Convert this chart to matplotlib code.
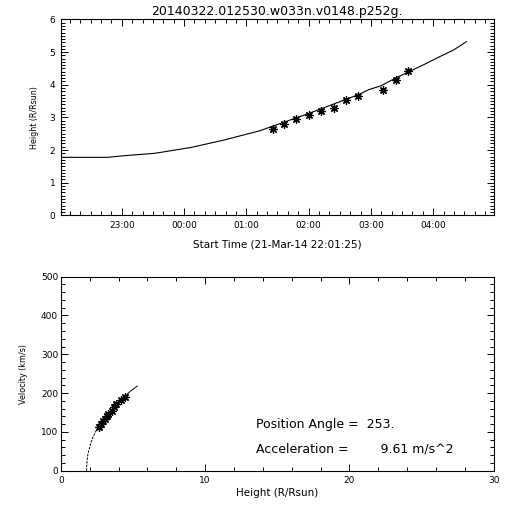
"""
Height-time and velocity-height plot for one CME track.
"""

import matplotlib
matplotlib.use('Agg')
import matplotlib.pyplot as plt
from matplotlib.ticker import MultipleLocator, FuncFormatter

TITLE = '20140322.012530.w033n.v0148.p252g.'
START_LABEL = 'Start Time (21-Mar-14 22:01:25)'
T_START = '22:01:25'
T_END = '04:58:10'

# measured heights (R/Rsun)
obs_times = ['01:25:30', '01:36:00', '01:48:00', '02:00:00', '02:12:00', '02:24:00',
             '02:36:00', '02:48:00', '03:12:00', '03:24:00', '03:36:00']
obs_heights = [2.64, 2.79, 2.95, 3.08, 3.20, 3.29, 3.54, 3.66, 3.85, 4.15, 4.42]
obs_velocities = [112, 120, 127, 134, 140, 147, 155, 163, 172, 182, 189]

# fitted height-time curve
fit_times = ['22:01:25', '22:46:00', '23:02:00', '23:32:00', '00:07:00', '00:39:00',
             '01:13:00', '02:01:00', '02:49:00', '02:58:00', '03:10:00', '03:24:00',
             '03:50:00', '04:05:00', '04:20:00', '04:32:00']
fit_heights = [1.775, 1.775, 1.825, 1.90, 2.08, 2.31, 2.59, 3.13, 3.71, 3.85, 3.97,
               4.21, 4.60, 4.84, 5.07, 5.32]

# velocity-height curve
vfit_dash_h = [1.78, 1.79, 1.81, 1.85, 1.92, 2.01, 2.12, 2.24, 2.36, 2.47]
vfit_dash_v = [0, 12, 24, 38, 50, 62, 76, 88, 97, 105]
vfit_h = [2.47, 2.64, 3.05, 3.56, 3.86, 4.32, 4.79, 5.29]
vfit_v = [105, 113, 134, 155, 172, 187, 204, 218]

PA_TEXT = 'Position Angle =  253.'
ACC_TEXT = 'Acceleration =        9.61 m/s^2'

plt.rcParams['font.family'] = ['DejaVu Sans']


def to_hours(s):
	"""Clock string -> hours after 21-Mar 00:00 (early hours belong to the next day)."""
	h, m, sec = [int(p) for p in s.split(':')]
	hrs = h + m / 60.0 + sec / 3600.0
	if hrs < 12:
		hrs += 24
	return hrs


def idl_axes(ax):
	for sp in ax.spines.values():
		sp.set_linewidth(0.8)
	ax.tick_params(which='both', direction='in', top=True, right=True, width=0.7,
	               labelsize=6.5, pad=4)
	ax.tick_params(which='major', length=5)
	ax.tick_params(which='minor', length=2.6)


def main():
	fig = plt.figure(figsize=(5.12, 5.12), dpi=100)
	star = dict(marker=(8, 2, 0), markersize=6, markeredgewidth=0.9,
	            color='black', linestyle='none')

	# --- height vs time
	ax1 = fig.add_axes([0.119, 0.5795, 0.845, 0.3825])
	ax1.plot([to_hours(t) for t in fit_times], fit_heights, color='black', lw=0.8)
	ax1.plot([to_hours(t) for t in obs_times], obs_heights, **star)
	ax1.set_xlim(to_hours(T_START), to_hours(T_END))
	ax1.set_ylim(0, 6)
	ax1.xaxis.set_major_locator(MultipleLocator(1))
	ax1.xaxis.set_minor_locator(MultipleLocator(1 / 6.0))
	ax1.xaxis.set_major_formatter(FuncFormatter(lambda x, pos: '%02d:00' % (int(round(x)) % 24)))
	ax1.yaxis.set_major_locator(MultipleLocator(1))
	ax1.yaxis.set_minor_locator(MultipleLocator(0.1))
	idl_axes(ax1)
	ax1.set_title(TITLE, fontsize=9, pad=3)
	ax1.set_xlabel(START_LABEL, fontsize=7.5)
	ax1.xaxis.set_label_coords(0.5, -0.126)
	ax1.set_ylabel('Height (R/Rsun)', fontsize=5.8)
	ax1.yaxis.set_label_coords(-0.051, 0.5)

	# --- velocity vs height
	ax2 = fig.add_axes([0.119, 0.0807, 0.845, 0.3789])
	ax2.plot(vfit_dash_h, vfit_dash_v, color='black', lw=0.7, linestyle=(0, (2.5, 1.2)))
	ax2.plot(vfit_h, vfit_v, color='black', lw=0.7)
	ax2.plot(obs_heights, obs_velocities, **star)
	ax2.set_xlim(0, 30)
	ax2.set_ylim(0, 500)
	ax2.xaxis.set_major_locator(MultipleLocator(10))
	ax2.xaxis.set_minor_locator(MultipleLocator(2))
	ax2.yaxis.set_major_locator(MultipleLocator(100))
	ax2.yaxis.set_minor_locator(MultipleLocator(20))
	idl_axes(ax2)
	ax2.tick_params(axis='y', pad=2)
	ax2.set_xlabel('Height (R/Rsun)', fontsize=7.5)
	ax2.xaxis.set_label_coords(0.5, -0.088)
	ax2.set_ylabel('Velocity (km/s)', fontsize=5.8)
	ax2.yaxis.set_label_coords(-0.076, 0.5)

	ax2.text(13.5, 118, PA_TEXT, fontsize=9, va='center', ha='left')
	ax2.text(13.5, 55, ACC_TEXT, fontsize=9, va='center', ha='left')

	fig.savefig('out.png', dpi=100)
	plt.close(fig)


if __name__ == '__main__':
	main()
